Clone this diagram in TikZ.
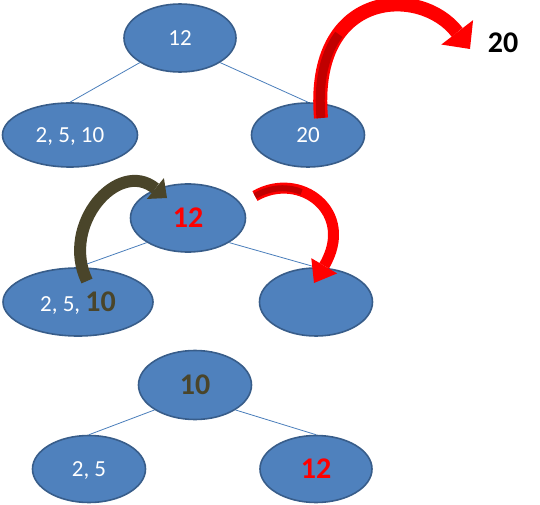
\documentclass[tikz,border=0pt]{standalone}
\usepackage{fontspec}
\setmainfont{Carlito}
\usetikzlibrary{shapes.geometric,arrows.meta}

\definecolor{nodeblue}{HTML}{4F81BD}
\definecolor{nodeedge}{HTML}{385D8A}
\definecolor{linkblue}{HTML}{4A7EBB}
\definecolor{darkred}{HTML}{C00000}
\definecolor{movedolive}{HTML}{4A452A}

\newcommand{\bignum}[2]{{\fontsize{30}{34}\selectfont\bfseries\color{#1}#2}}

\begin{document}
\begin{tikzpicture}[
  x=1pt, y=-1pt,
  key/.style={
    ellipse, draw=nodeedge, line width=1.6pt, fill=nodeblue, text=white,
    inner sep=0pt, text depth=0pt, font=\fontsize{23}{27}\selectfont
  },
  link/.style={draw=linkblue, line width=0.8pt},
  redarrow/.style={red, line width=14pt, -{Triangle[width=40pt,length=21pt,line width=0pt]}},
  redarrowthin/.style={red, line width=11pt, -{Triangle[width=30pt,length=20pt,line width=0pt]}},
  olivearrow/.style={movedolive, line width=12pt, -{Triangle[width=27pt,length=15pt,line width=0pt]}},
  darkpart/.style={darkred, line width=9pt}
]
\useasboundingbox (0,0) rectangle (540,505);

% --- first tree: 20 is taken out
\node[key, minimum width=112pt, minimum height=68pt] (top12)   at (180,38)  {12};
\node[key, minimum width=135pt, minimum height=64pt] (top2510) at (70,135)  {2, 5, 10};
\node[key, minimum width=113pt, minimum height=64pt] (top20)   at (308,135) {20};
\node[font=\fontsize{30}{34}\selectfont\bfseries]     (out20)   at (503,43)  {20};

\draw[link] (top12.south west) -- (top2510.north);
\draw[link] (top12.south east) -- (top20.north);

% --- second tree: 12 goes down, 10 goes up
\node[key, minimum width=115pt, minimum height=68pt] (mid12)   at (188,218) {\bignum{red}{12}};
\node[key, minimum width=150pt, minimum height=68pt] (mid2510) at (78,302)  {2, 5, \bignum{movedolive}{10}};
\node[key, minimum width=113pt, minimum height=68pt] (midR)    at (316,302) {};

\draw[link] (mid12.south west) -- (mid2510.north);
\draw[link] (mid12.south east) -- (midR.north);

% --- third tree: result
\node[key, minimum width=113pt, minimum height=69pt] (bot10) at (195,385) {\bignum{movedolive}{10}};
\node[key, minimum width=113pt, minimum height=67pt] (bot25) at (89,469)  {2, 5};
\node[key, minimum width=112pt, minimum height=67pt] (bot12) at (316,469) {\bignum{red}{12}};

\draw[link] (bot10.south west) -- (bot25.north);
\draw[link] (bot10.south east) -- (bot12.north);

% --- curved arrows
\coordinate (tailA) at (321,118);
\coordinate (tipA)  at (470,49);
\draw[redarrow] (tailA) .. controls (310,-10) and (420,-16) .. (tipA);
\draw[darkpart] (tailA) .. controls (317.7,79.6) and (325.3,52.2) .. (338.9,34.4);

\coordinate (tailB) at (255,196);
\coordinate (tipB)  at (314,283);
\draw[redarrowthin] (tailB) .. controls (300,170) and (356,212) .. (tipB);
\draw[darkpart, line width=6pt] (tailB) .. controls (270.7,186.9) and (287.8,186.1) .. (301.6,192);

\coordinate (tailC) at (87,281);
\coordinate (tipC)  at (167,198);
\draw[olivearrow] (tailC) .. controls (60,225) and (118,158) .. (tipC);

\end{tikzpicture}
\end{document}
